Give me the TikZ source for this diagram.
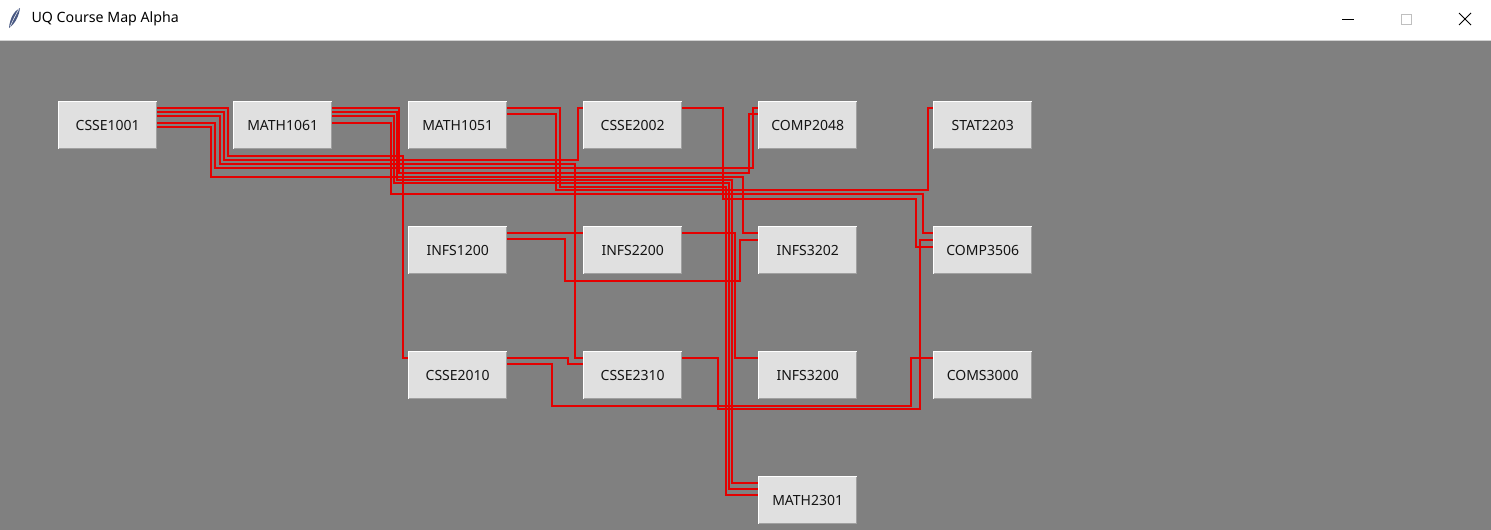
\documentclass[tikz,border=0pt]{standalone}
\usepackage{fontspec}
\setmainfont{Noto Sans}
\usetikzlibrary{calc}
\definecolor{canvas}{RGB}{128,128,128}
\definecolor{btn}{RGB}{224,224,224}
\definecolor{btndark}{RGB}{160,160,160}
\definecolor{edgered}{RGB}{228,0,0}
\definecolor{feather}{RGB}{72,88,130}
\begin{document}
\begin{tikzpicture}[x=1pt,y=-1pt,
  course/.style={rectangle, fill=btn, minimum width=99pt, minimum height=48pt,
    inner sep=0pt, anchor=north west, font=\fontsize{14}{16}\selectfont, text=black!92},
  edge/.style={draw=edgered, line width=1.15pt},
  chrome/.style={black, line width=0.9pt}]
\useasboundingbox (0,0) rectangle (1491,530);
\fill[canvas] (0,0) rectangle (1491,530);
\fill[white] (0,0) rectangle (1491,40);
\draw[black!18] (0,40.5) -- (1491,40.5);
% title bar
\fill[feather] (9,28) .. controls (10,18) and (14,11) .. (20,8) .. controls (19,16) and (15,24) .. (9,28);
\draw[white, line width=0.5pt] (10,27) .. controls (13,20) and (16,14) .. (19,9);
\node[anchor=west, font=\fontsize{14.2}{16}\selectfont] (title) at (28,19) {UQ Course Map Alpha};
\draw[chrome] (1342,19.5) -- (1354,19.5);
\draw[black!25, line width=0.9pt] (1401,14) rectangle (1411,24);
\draw[chrome] (1459,13) -- (1471,25) (1471,13) -- (1459,25);
% courses
\node[course] (CSSE1001) at (58,101)  {CSSE1001};
\node[course] (MATH1061) at (233,101) {MATH1061};
\node[course] (MATH1051) at (408,101) {MATH1051};
\node[course] (CSSE2002) at (583,101) {CSSE2002};
\node[course] (COMP2048) at (758,101) {COMP2048};
\node[course] (STAT2203) at (933,101) {STAT2203};
\node[course] (INFS1200) at (408,226) {INFS1200};
\node[course] (INFS2200) at (583,226) {INFS2200};
\node[course] (INFS3202) at (758,226) {INFS3202};
\node[course] (COMP3506) at (933,226) {COMP3506};
\node[course] (CSSE2010) at (408,351) {CSSE2010};
\node[course] (CSSE2310) at (583,351) {CSSE2310};
\node[course] (INFS3200) at (758,351) {INFS3200};
\node[course] (COMS3000) at (933,351) {COMS3000};
\node[course] (MATH2301) at (758,476) {MATH2301};
\foreach \n in {CSSE1001,MATH1061,MATH1051,CSSE2002,COMP2048,STAT2203,INFS1200,INFS2200,INFS3202,COMP3506,CSSE2010,CSSE2310,INFS3200,COMS3000,MATH2301}{
  \draw[white, line width=1pt] ($(\n.south west)+(0.5,-0.5)$) |- ($(\n.north east)+(-0.5,0.5)$);
  \draw[btndark, line width=1pt] ($(\n.south west)+(0.5,-0.5)$) -| ($(\n.north east)+(-0.5,0.5)$);
}
% row 0 prerequisites
\draw[edge] ($(CSSE1001.north east)+(0,7)$)  -| (228,156) -| ($(CSSE2010.north west)+(-5,7)$) -- +(5,0);
\draw[edge] ($(CSSE1001.north east)+(0,11)$) -| (224,160) -| ($(CSSE2002.north west)+(-5,7)$) -- +(5,0);
\draw[edge] ($(CSSE1001.north east)+(0,15)$) -| (220,164) -| ($(CSSE2310.north west)+(-8,7)$) -- +(8,0);
\draw[edge] ($(CSSE1001.north east)+(0,22)$) -| (215,168) -| ($(COMP2048.north west)+(-5,7)$) -- +(5,0);
\draw[edge] ($(CSSE1001.north east)+(0,26)$) -| (211,177) -| ($(INFS3202.north west)+(-15,7)$) -- +(15,0);
\draw[edge] ($(MATH1061.north east)+(0,7)$)  -| (399,173) -| ($(COMP2048.north west)+(-9,13)$) -- +(9,0);
\draw[edge] ($(MATH1061.north east)+(0,11)$) -| (397,180) -| ($(MATH2301.north west)+(-26,7)$) -- +(26,0);
\draw[edge] ($(MATH1061.north east)+(0,15)$) -| (394,183) -| ($(MATH2301.north west)+(-29,13)$) -- +(29,0);
\draw[edge] ($(MATH1061.north east)+(0,22)$) -| (391,194) -| ($(COMP3506.north west)+(-10,7)$) -- +(10,0);
\draw[edge] ($(MATH1051.north east)+(0,7)$)  -| (560,187) -| ($(MATH2301.north west)+(-32,19)$) -- +(32,0);
\draw[edge] ($(MATH1051.north east)+(0,13)$) -| (556,190) -| ($(STAT2203.north west)+(-5,7)$) -- +(5,0);
\draw[edge] ($(CSSE2002.north east)+(0,7)$)  -| (723,199) -| ($(COMP3506.north west)+(-17,21)$) -- +(17,0);
% row 1 prerequisites
\draw[edge] ($(INFS1200.north east)+(0,7)$) -- ($(INFS2200.north west)+(0,7)$);
\draw[edge] ($(INFS1200.north east)+(0,13)$) -| (565,281) -| ($(INFS3202.north west)+(-18,14)$) -- +(18,0);
\draw[edge] ($(INFS2200.north east)+(0,7)$) -| ($(INFS3200.north west)+(-23,7)$) -- +(23,0);
% row 2 prerequisites
\draw[edge] ($(CSSE2010.north east)+(0,7)$) -| ($(CSSE2310.north west)+(-15,13)$) -- +(15,0);
\draw[edge] ($(CSSE2010.north east)+(0,13)$) -| (552,406) -| ($(COMS3000.north west)+(-22,7)$) -- +(22,0);
\draw[edge] ($(CSSE2310.north east)+(0,7)$) -| (718,409) -| ($(COMP3506.north west)+(-13,14)$) -- +(13,0);
\end{tikzpicture}
\end{document}
